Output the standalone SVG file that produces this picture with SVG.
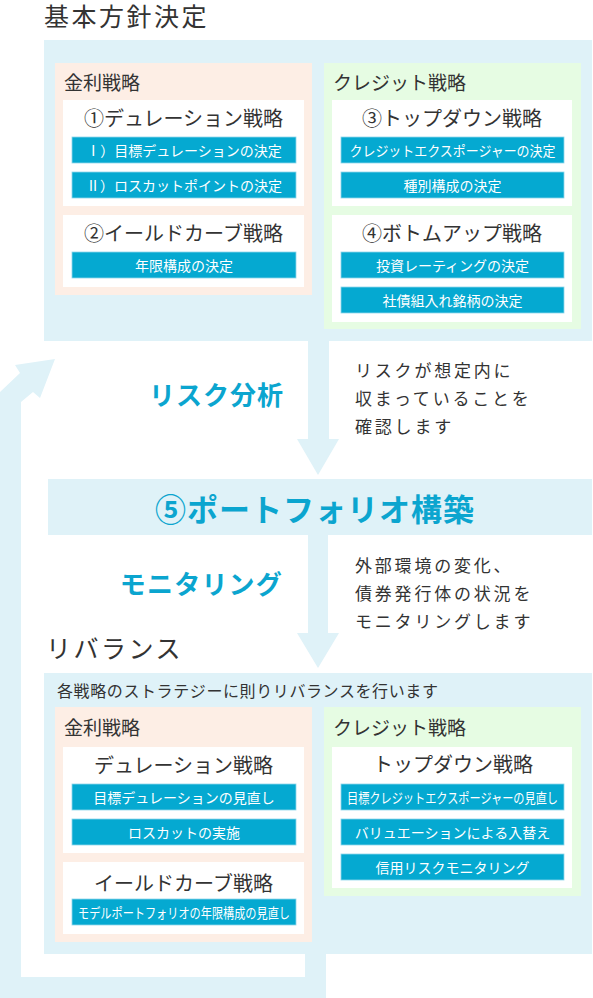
<svg xmlns="http://www.w3.org/2000/svg" width="593" height="998" viewBox="0 0 593 998">
<style>
text{font-family:"Noto Sans CJK JP","Noto Sans",sans-serif;dominant-baseline:central}
.bg{fill:#dff2f8}
.or{fill:#fdeee5}
.gr{fill:#e6fce3}
.wh{fill:#ffffff}
.btn{fill:#05a9d1;stroke:#8fd6ea;stroke-width:0.8}
.bt{fill:#ffffff;font-size:14px;text-anchor:middle}
.h1{fill:#333333;font-size:25px;letter-spacing:2.5px}
.h2{fill:#333333;font-size:19px}
.h3{fill:#333333;font-size:20px;text-anchor:middle}
.blue{fill:#0ba5cf;font-weight:bold}
.note{fill:#333333;font-size:17px;letter-spacing:2.8px}
.conn{fill:#dff2f8}
</style>

<g id="connectors">
  <polygon class="conn" points="305,954 326,954 326,998 0,998 0,392 20,373 15,365 55,359 40,398 33,392 21,402 21,977 305,977"/>
  <polygon class="conn" points="308,341 329,341 329,439 339,439 318,475 297,439 308,439"/>
  <polygon class="conn" points="308,535 328,535 328,633 339,633 318,668 297,633 308,633"/>
</g>

<g id="title-basic">
  <text class="h1" x="44" y="15">基本方針決定</text>
</g>

<g id="box-basic">
  <rect class="bg" x="44" y="40" width="548" height="301"/>
</g>

<g id="kinri-1">
  <rect class="or" x="55" y="63" width="257" height="232"/>
  <text class="h2" x="64" y="81.5">金利戦略</text>
</g>
<g id="duration-1">
  <rect class="wh" x="63" y="100" width="241" height="106"/>
  <text class="h3" x="183.5" y="117.5">①デュレーション戦略</text>
  <rect class="btn" x="72" y="137" width="224" height="26"/>
  <text class="bt" x="184" y="150">Ⅰ）目標デュレーションの決定</text>
  <rect class="btn" x="72" y="172" width="224" height="26"/>
  <text class="bt" x="184" y="185">Ⅱ）ロスカットポイントの決定</text>
</g>
<g id="yield-1">
  <rect class="wh" x="63" y="215" width="241" height="72"/>
  <text class="h3" x="183.5" y="232.5">②イールドカーブ戦略</text>
  <rect class="btn" x="72" y="252" width="224" height="26"/>
  <text class="bt" x="184" y="265">年限構成の決定</text>
</g>

<g id="credit-1">
  <rect class="gr" x="324" y="63" width="257" height="266"/>
  <text class="h2" x="333" y="81.5">クレジット戦略</text>
</g>
<g id="topdown-1">
  <rect class="wh" x="332" y="100" width="240" height="106"/>
  <text class="h3" x="452" y="117.5">③トップダウン戦略</text>
  <rect class="btn" x="341" y="137" width="223" height="26"/>
  <text class="bt" x="452.5" y="150" textLength="206" lengthAdjust="spacingAndGlyphs">クレジットエクスポージャーの決定</text>
  <rect class="btn" x="341" y="172" width="223" height="26"/>
  <text class="bt" x="452.5" y="185">種別構成の決定</text>
</g>
<g id="bottomup-1">
  <rect class="wh" x="332" y="215" width="240" height="107"/>
  <text class="h3" x="452" y="232.5">④ボトムアップ戦略</text>
  <rect class="btn" x="341" y="252" width="223" height="26"/>
  <text class="bt" x="452.5" y="265">投資レーティングの決定</text>
  <rect class="btn" x="341" y="287" width="223" height="26"/>
  <text class="bt" x="452.5" y="300">社債組入れ銘柄の決定</text>
</g>

<g id="risk-label">
  <text class="blue" x="284" y="393.5" font-size="26" letter-spacing="1" text-anchor="end">リスク分析</text>
  <text class="note" x="355" y="369">リスクが想定内に</text>
  <text class="note" x="355" y="397">収まっていることを</text>
  <text class="note" x="355" y="425">確認します</text>
</g>

<g id="portfolio">
  <rect class="bg" x="48" y="479" width="544" height="56"/>
  <text class="blue" x="315" y="507" font-size="31" letter-spacing="1" text-anchor="middle">⑤ポートフォリオ構築</text>
</g>

<g id="monitor-label">
  <text class="blue" x="283" y="582" font-size="26" letter-spacing="1.2" text-anchor="end">モニタリング</text>
  <text class="note" x="355" y="564">外部環境の変化、</text>
  <text class="note" x="355" y="592">債券発行体の状況を</text>
  <text class="note" x="355" y="620">モニタリングします</text>
</g>

<g id="title-rebalance">
  <text class="h1" x="46" y="646.5">リバランス</text>
</g>

<g id="box-rebalance">
  <rect class="bg" x="44" y="673" width="548" height="281"/>
  <text x="57" y="690" fill="#333333" font-size="16" letter-spacing="0.6">各戦略のストラテジーに則りリバランスを行います</text>
</g>

<g id="kinri-2">
  <rect class="or" x="55" y="707" width="257" height="235"/>
  <text class="h2" x="64" y="726">金利戦略</text>
</g>
<g id="duration-2">
  <rect class="wh" x="63" y="747" width="241" height="106"/>
  <text class="h3" x="183.5" y="764.5">デュレーション戦略</text>
  <rect class="btn" x="72" y="784" width="224" height="26"/>
  <text class="bt" x="184" y="797">目標デュレーションの見直し</text>
  <rect class="btn" x="72" y="819" width="224" height="26"/>
  <text class="bt" x="184" y="832">ロスカットの実施</text>
</g>
<g id="yield-2">
  <rect class="wh" x="63" y="862" width="241" height="72"/>
  <text class="h3" x="183.5" y="882.5">イールドカーブ戦略</text>
  <rect class="btn" x="72" y="899" width="224" height="26"/>
  <text class="bt" x="184" y="912" textLength="212" lengthAdjust="spacingAndGlyphs">モデルポートフォリオの年限構成の見直し</text>
</g>

<g id="credit-2">
  <rect class="gr" x="324" y="707" width="257" height="189"/>
  <text class="h2" x="333" y="726">クレジット戦略</text>
</g>
<g id="topdown-2">
  <rect class="wh" x="332" y="747" width="240" height="141"/>
  <text class="h3" x="453" y="763.5">トップダウン戦略</text>
  <rect class="btn" x="341" y="784" width="223" height="26"/>
  <text class="bt" x="452.5" y="797" textLength="211" lengthAdjust="spacingAndGlyphs">目標クレジットエクスポージャーの見直し</text>
  <rect class="btn" x="341" y="819" width="223" height="26"/>
  <text class="bt" x="452.5" y="832">バリュエーションによる入替え</text>
  <rect class="btn" x="341" y="854" width="223" height="26"/>
  <text class="bt" x="452.5" y="867">信用リスクモニタリング</text>
</g>
</svg>
